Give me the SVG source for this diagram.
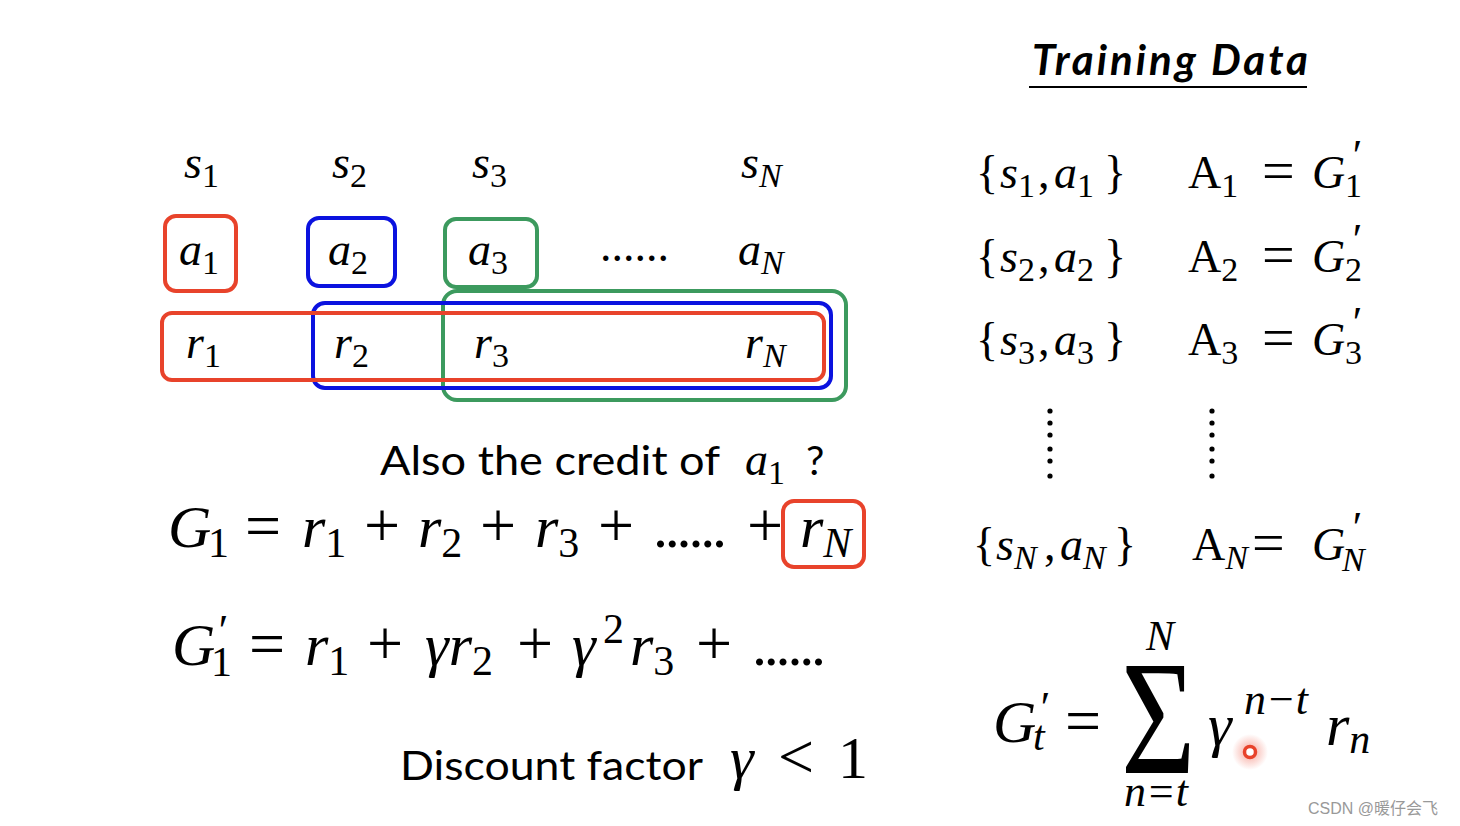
<svg xmlns="http://www.w3.org/2000/svg" width="1460" height="826" viewBox="0 0 1460 826">
<defs>
<style>
.v{font-family:"Liberation Serif",serif;font-style:italic;font-size:46px;fill:#000}
.u{font-family:"Liberation Serif",serif;font-style:normal;font-size:46px;fill:#000}
.s{font-family:"Liberation Serif",serif;font-style:normal;font-size:34px}
.si{font-family:"Liberation Serif",serif;font-style:italic;font-size:34px}
.big{font-size:60px}
.bs{font-size:42px}
.pr{font-family:"Liberation Serif",serif;font-style:italic;font-size:44px}
.eq{font-family:"Liberation Serif",serif;font-size:64px}
.eqs{font-family:"Liberation Serif",serif;font-size:58px}
.txt{font-family:Lato,"Open Sans",sans-serif;font-size:41px;fill:#000}
.box{fill:none;stroke-width:4}
.red{stroke:#E8432B}
.blue{stroke:#0B12DF}
.green{stroke:#3C9A5E}
.dot{fill:#000}
</style>
<radialGradient id="glow">
<stop offset="0" stop-color="#F05A46" stop-opacity="0.55"/>
<stop offset="1" stop-color="#F05A46" stop-opacity="0"/>
</radialGradient>
</defs>
<rect width="1460" height="826" fill="#fff"/>

<g id="boxes">
<rect class="box red" x="165" y="216" width="71" height="75" rx="11"/>
<rect class="box blue" x="308" y="218" width="87" height="68" rx="11"/>
<rect class="box green" x="445" y="219" width="92" height="68" rx="11"/>
<rect class="box green" x="443" y="291" width="403" height="109" rx="14"/>
<rect class="box blue" x="313" y="303" width="518" height="85" rx="12"/>
<rect class="box red" x="162" y="313" width="662" height="67" rx="10"/>
<rect class="box red" x="783" y="501" width="81" height="66" rx="11"/>
</g>

<g id="states">
<text class="v" x="184" y="178">s<tspan class="s" dy="9">1</tspan></text>
<text class="v" x="332" y="178">s<tspan class="s" dy="9">2</tspan></text>
<text class="v" x="472" y="178">s<tspan class="s" dy="9">3</tspan></text>
<text class="v" x="741" y="178">s<tspan class="si" dy="9">N</tspan></text>
</g>

<g id="actions">
<text class="v" x="179" y="265">a<tspan class="s" dy="9">1</tspan></text>
<text class="v" x="328" y="265">a<tspan class="s" dy="9">2</tspan></text>
<text class="v" x="468" y="265">a<tspan class="s" dy="9">3</tspan></text>
<text class="u" x="600" y="261">......</text>
<text class="v" x="738" y="265">a<tspan class="si" dy="9">N</tspan></text>
</g>

<g id="rewards">
<text class="v" x="186" y="358">r<tspan class="s" dy="9">1</tspan></text>
<text class="v" x="334" y="358">r<tspan class="s" dy="9">2</tspan></text>
<text class="v" x="474" y="358">r<tspan class="s" dy="9">3</tspan></text>
<text class="v" x="745" y="358">r<tspan class="si" dy="9">N</tspan></text>
</g>

<g id="question">
<text class="txt" x="380" y="475" textLength="340" lengthAdjust="spacingAndGlyphs">Also the credit of</text>
<text class="v" x="745" y="475">a<tspan class="s" dy="9">1</tspan></text>
<text class="txt" x="806" y="475">?</text>
</g>

<g id="g1">
<text class="v big" x="168" y="547">G</text>
<text class="s bs" x="208" y="557">1</text>
<text class="eq" x="245" y="547">=</text>
<text class="v big" x="302" y="547">r<tspan class="s bs" dy="10">1</tspan></text>
<text class="eq" x="364" y="547">+</text>
<text class="v big" x="418" y="547">r<tspan class="s bs" dy="10">2</tspan></text>
<text class="eq" x="480" y="547">+</text>
<text class="v big" x="535" y="547">r<tspan class="s bs" dy="10">3</tspan></text>
<text class="eq" x="598" y="547">+</text>
<text class="u big" x="653" y="547" textLength="74">......</text>
<text class="eq" x="747" y="547">+</text>
<text class="v big" x="800" y="547">r<tspan class="si bs" dy="10">N</tspan></text>
</g>

<g id="g1prime">
<text class="v big" x="172" y="665">G</text>
<text class="pr" x="216" y="645">′</text>
<text class="s bs" x="211" y="676">1</text>
<text class="eq" x="249" y="665">=</text>
<text class="v big" x="305" y="665">r<tspan class="s bs" dy="10">1</tspan></text>
<text class="eq" x="367" y="665">+</text>
<text class="v big" x="425" y="665">γr<tspan class="s bs" dy="10">2</tspan></text>
<text class="eq" x="517" y="665">+</text>
<text class="v big" x="572" y="665">γ</text>
<text class="s bs" x="603" y="643">2</text>
<text class="v big" x="630" y="665">r<tspan class="s bs" dy="10">3</tspan></text>
<text class="eq" x="696" y="665">+</text>
<text class="u big" x="752" y="665" textLength="74">......</text>
</g>

<g id="discount">
<text class="txt" x="400" y="780" textLength="303" lengthAdjust="spacingAndGlyphs">Discount factor</text>
<text class="v big" x="730" y="778">γ</text>
<text class="eq" x="778" y="778">&lt;</text>
<text class="u big" x="838" y="778">1</text>
</g>

<g id="title">
<text x="1032" y="75" style="font-family:Lato,'Open Sans',sans-serif;font-weight:bold;font-style:italic;font-size:42px" textLength="276">Training Data</text>
<line x1="1029" y1="87" x2="1307" y2="87" stroke="#000" stroke-width="2"/>
</g>

<g id="row1">
<text class="u" x="976" y="188">{</text>
<text class="v" x="1000" y="188">s<tspan class="s" dy="9">1</tspan></text>
<text class="u" x="1038" y="188">,</text>
<text class="v" x="1054" y="188">a<tspan class="s" dy="9">1</tspan></text>
<text class="u" x="1104" y="188">}</text>
<text class="u" x="1188" y="188">A<tspan class="s" dy="9">1</tspan></text>
<text class="eqs" x="1262" y="190">=</text>
<text class="v" x="1312" y="188">G</text>
<text class="pr" x="1350" y="170">′</text>
<text class="s" x="1345" y="197">1</text>
</g>

<g id="row2">
<text class="u" x="976" y="272">{</text>
<text class="v" x="1000" y="272">s<tspan class="s" dy="9">2</tspan></text>
<text class="u" x="1038" y="272">,</text>
<text class="v" x="1054" y="272">a<tspan class="s" dy="9">2</tspan></text>
<text class="u" x="1104" y="272">}</text>
<text class="u" x="1188" y="272">A<tspan class="s" dy="9">2</tspan></text>
<text class="eqs" x="1262" y="274">=</text>
<text class="v" x="1312" y="272">G</text>
<text class="pr" x="1350" y="254">′</text>
<text class="s" x="1345" y="281">2</text>
</g>

<g id="row3">
<text class="u" x="976" y="355">{</text>
<text class="v" x="1000" y="355">s<tspan class="s" dy="9">3</tspan></text>
<text class="u" x="1038" y="355">,</text>
<text class="v" x="1054" y="355">a<tspan class="s" dy="9">3</tspan></text>
<text class="u" x="1104" y="355">}</text>
<text class="u" x="1188" y="355">A<tspan class="s" dy="9">3</tspan></text>
<text class="eqs" x="1262" y="357">=</text>
<text class="v" x="1312" y="355">G</text>
<text class="pr" x="1350" y="337">′</text>
<text class="s" x="1345" y="364">3</text>
</g>

<g id="vdots">
<circle class="dot" cx="1050" cy="411" r="2.6"/>
<circle class="dot" cx="1050" cy="423" r="2.6"/>
<circle class="dot" cx="1050" cy="435" r="2.6"/>
<circle class="dot" cx="1050" cy="449" r="2.6"/>
<circle class="dot" cx="1050" cy="461" r="2.6"/>
<circle class="dot" cx="1050" cy="476" r="2.6"/>
<circle class="dot" cx="1212" cy="411" r="2.6"/>
<circle class="dot" cx="1212" cy="423" r="2.6"/>
<circle class="dot" cx="1212" cy="435" r="2.6"/>
<circle class="dot" cx="1212" cy="449" r="2.6"/>
<circle class="dot" cx="1212" cy="461" r="2.6"/>
<circle class="dot" cx="1212" cy="476" r="2.6"/>
</g>

<g id="rowN">
<text class="u" x="973" y="560">{</text>
<text class="v" x="996" y="560">s<tspan class="si" dy="9">N</tspan></text>
<text class="u" x="1044" y="560">,</text>
<text class="v" x="1060" y="560">a<tspan class="si" dy="9">N</tspan></text>
<text class="u" x="1114" y="560">}</text>
<text class="u" x="1192" y="560">A<tspan class="si" dy="9">N</tspan></text>
<text class="eqs" x="1252" y="562">=</text>
<text class="v" x="1312" y="560">G</text>
<text class="pr" x="1350" y="542">′</text>
<text class="si" x="1342" y="571">N</text>
</g>

<g id="sum">
<text class="v big" x="993" y="742">G</text>
<text class="pr" x="1038" y="722">′</text>
<text class="si bs" x="1033" y="750">t</text>
<text class="eq" x="1065" y="742">=</text>
<text transform="translate(1121,773) scale(0.8,1.02)" style="font-family:'Liberation Serif',serif;font-size:160px">Σ</text>
<text class="si bs" x="1146" y="650">N</text>
<text class="si" x="1124" y="806" style="font-size:44px">n=t</text>
<text class="v big" x="1208" y="745">γ</text>
<text class="si" x="1244" y="714" style="font-size:44px">n−t</text>
<text class="v big" x="1326" y="745">r<tspan class="si bs" dy="8">n</tspan></text>
</g>

<g id="pointer">
<circle cx="1250" cy="752" r="18" fill="url(#glow)"/>
<circle cx="1250" cy="752" r="5.5" fill="#fff" stroke="#E8432B" stroke-width="3.5"/>
</g>

<text id="watermark" x="1308" y="814" style="font-family:'Liberation Sans','Noto Sans CJK SC',sans-serif;font-size:16px;fill:#999">CSDN @暖仔会飞</text>
</svg>
